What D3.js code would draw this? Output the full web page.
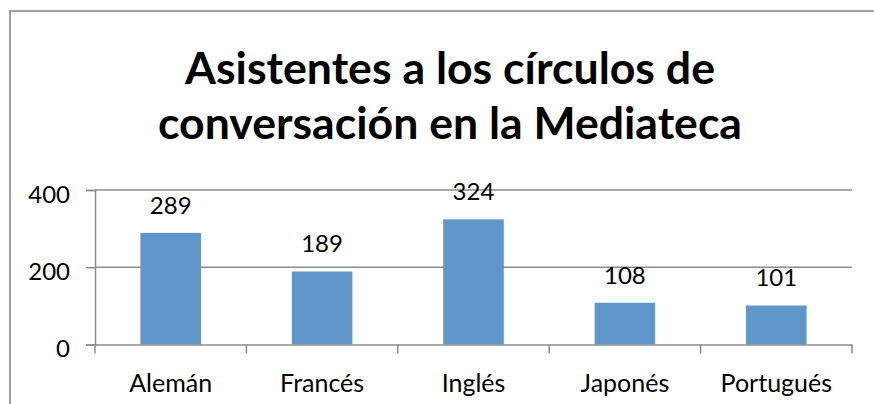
<!DOCTYPE html>
<html>
<head>
<meta charset="utf-8">
<script src="https://cdn.jsdelivr.net/npm/d3@7"></script>
<style>
  html, body { margin: 0; padding: 0; background: #fff; }
  svg { display: block; font-family: Lato, "Open Sans", sans-serif; }
</style>
</head>
<body>
<svg id="chart" width="874" height="404"></svg>
<script>
const titleLines = ["Asistentes a los círculos de", "conversación en la Mediateca"];
const categories = ["Alemán", "Francés", "Inglés", "Japonés", "Portugués"];
const values = [289, 189, 324, 108, 101];
const yTicks = [0, 200, 400];

const svg = d3.select("#chart");
const W = 874, H = 404;
const plot = { left: 95, right: 852, top: 190, bottom: 344.5 };
const gridColor = "#8c8c8c";
const barColor = "#6096ca";

// outer chart border (extends past the right and bottom edges)
svg.append("rect")
  .attr("x", 10).attr("y", 11)
  .attr("width", W + 20).attr("height", H + 20)
  .attr("fill", "#fff")
  .attr("stroke", "#a0a0a0").attr("stroke-width", 2);

// title
const titleWidths = [530, 584];
const titleBaselines = [84, 139];
titleLines.forEach((t, i) => {
  svg.append("text")
    .attr("x", 450).attr("y", titleBaselines[i])
    .attr("text-anchor", "middle")
    .attr("font-size", 43).attr("font-weight", "bold")
    .attr("fill", "#000")
    .attr("textLength", titleWidths[i])
    .attr("lengthAdjust", "spacingAndGlyphs")
    .text(t);
});

const x = d3.scaleBand().domain(categories).range([plot.left, plot.right]).padding(0);
const y = d3.scaleLinear().domain([0, 400]).range([plot.bottom, plot.top]);

// gridlines
svg.append("g").selectAll("line").data(yTicks.filter(d => d > 0)).join("line")
  .attr("x1", plot.left).attr("x2", plot.right)
  .attr("y1", d => y(d)).attr("y2", d => y(d))
  .attr("stroke", gridColor).attr("stroke-width", 1.5);

// y axis
const yAxis = svg.append("g").attr("transform", `translate(${plot.left},0)`)
  .call(d3.axisLeft(y).tickValues(yTicks).tickSize(9).tickPadding(0).tickFormat(d3.format("d")));
yAxis.select(".domain").attr("stroke", gridColor).attr("stroke-width", 1.5);
yAxis.selectAll(".tick line").attr("stroke", gridColor).attr("stroke-width", 1.5);
yAxis.selectAll(".tick text")
  .attr("x", -25).attr("dy", null).attr("y", 12)
  .attr("font-family", "Lato, 'Open Sans', sans-serif")
  .attr("font-size", 24).attr("fill", "#000");

// bars
const bw = x.bandwidth() * 0.4;
svg.append("g").selectAll("rect").data(values).join("rect")
  .attr("x", (d, i) => x(categories[i]) + (x.bandwidth() - bw) / 2)
  .attr("y", d => y(d))
  .attr("width", bw)
  .attr("height", d => y(0) - y(d))
  .attr("fill", barColor);

// x axis
const xAxis = svg.append("g").attr("transform", `translate(0,${plot.bottom})`)
  .call(d3.axisBottom(x).tickSize(0).tickPadding(0));
xAxis.select(".domain").attr("stroke", gridColor).attr("stroke-width", 1.5);
xAxis.selectAll(".tick text")
  .attr("y", 47.5).attr("dy", null)
  .attr("font-family", "Lato, 'Open Sans', sans-serif")
  .attr("font-size", 25).attr("fill", "#000");
// x tick marks at category boundaries
const boundaries = categories.map(c => x(c)).concat([x.range()[1]]);
svg.append("g").selectAll("line").data(boundaries).join("line")
  .attr("x1", d => d).attr("x2", d => d)
  .attr("y1", plot.bottom).attr("y2", plot.bottom + 9)
  .attr("stroke", gridColor).attr("stroke-width", 1.5);

// data labels
svg.append("g").selectAll("text").data(values).join("text")
  .attr("x", (d, i) => x(categories[i]) + x.bandwidth() / 2)
  .attr("y", d => y(d) - 19)
  .attr("text-anchor", "middle")
  .attr("font-size", 24).attr("fill", "#000")
  .text(d => d);
</script>
</body>
</html>
